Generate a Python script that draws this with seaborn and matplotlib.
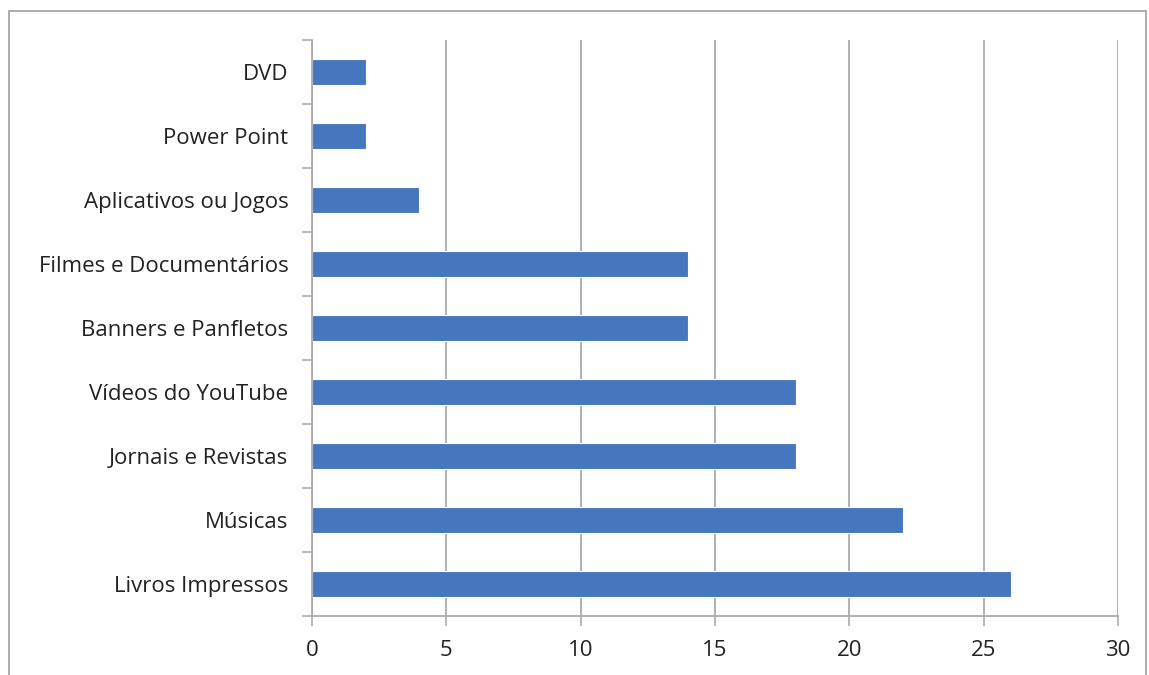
import numpy as np
import matplotlib
matplotlib.use('Agg')
import matplotlib.pyplot as plt
import matplotlib.patches as patches
import seaborn as sns

categorias = ['DVD', 'Power Point', 'Aplicativos ou Jogos', 'Filmes e Documentários',
              'Banners e Panfletos', 'Vídeos do YouTube', 'Jornais e Revistas',
              'Músicas', 'Livros Impressos']
valores = [2, 2, 4, 14, 14, 18, 18, 22, 26]
xticks = [0, 5, 10, 15, 20, 25, 30]

sns.set_style('white')
plt.rcParams['font.family'] = ['Open Sans', 'DejaVu Sans']

cinza = '#ABABAB'
fig = plt.figure(figsize=(11.49, 6.75), dpi=100)
ax = fig.add_axes([312/1149, 1-616/675, (1118-312)/1149, (616-40)/675])

sns.barplot(x=valores, y=categorias, order=categorias, orient='h',
            color='#4677BE', saturation=1, width=0.4, edgecolor='white',
            linewidth=0.8, ax=ax)

ax.set_xlim(0, 30)
ax.set_ylim(len(categorias) - 0.5, -0.5)
ax.set_xticks(xticks)
ax.set_xticklabels([str(t) for t in xticks], fontsize=16, color='#222222')
ax.tick_params(axis='x', bottom=True, direction='out', length=7, width=1.2, color=cinza, pad=10)
ax.tick_params(axis='y', which='major', left=True, length=0, pad=17, labelsize=16, labelcolor='#222222')
ax.set_yticks(np.arange(-0.5, len(categorias)), minor=True)
ax.tick_params(axis='y', which='minor', left=True, direction='out', length=7, width=1.2, color=cinza)

ax.grid(axis='x', color=cinza, linewidth=1.3)
ax.set_axisbelow(True)
for s in ['top', 'right']:
    ax.spines[s].set_visible(False)
for s in ['left', 'bottom']:
    ax.spines[s].set_color(cinza)
    ax.spines[s].set_linewidth(1.3)
ax.set_xlabel('')
ax.set_ylabel('')

# moldura do grafico
fig.patches.append(patches.Rectangle((9/1149, -0.1), (1146-9)/1149, 1.1 - 11/675,
                                     transform=fig.transFigure, fill=False,
                                     edgecolor='#9E9E9E', linewidth=1.2))

plt.savefig('out.png', dpi=100)
